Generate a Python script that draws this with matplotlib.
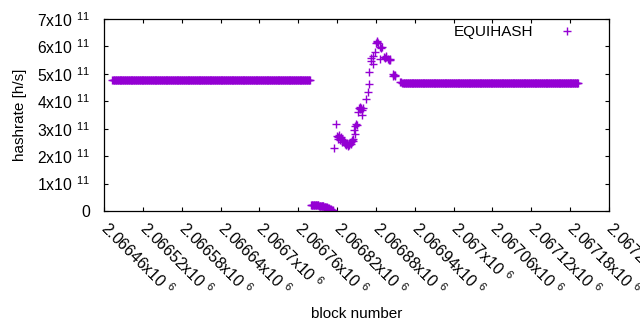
import numpy as np
import matplotlib
matplotlib.use('Agg')
import matplotlib.pyplot as plt

plt.rcParams['font.family'] = ['Liberation Sans', 'DejaVu Sans']
plt.rcParams['font.size'] = 11
plt.rcParams['mathtext.fontset'] = 'custom'
plt.rcParams['mathtext.rm'] = 'Liberation Sans'
plt.rcParams['mathtext.it'] = 'Liberation Sans:italic'

COLOR = '#9400d3'

# first plateau (one point per block, constant hashrate)
flat1_first, flat1_last, flat1_val = 2066473, 2066778, 4.765e11
# second plateau
flat2_first, flat2_last, flat2_val = 2066921, 2067192, 4.655e11

# the dip right after the first plateau (x1e11)
low_first = 2066780
low_vals = [0.23, 0.23, 0.23, 0.22, 0.22, 0.22, 0.22, 0.22, 0.21, 0.21, 0.21, 0.21,
            0.20, 0.20, 0.20, 0.19, 0.19, 0.18, 0.17, 0.17, 0.16, 0.15, 0.15, 0.14,
            0.13, 0.12, 0.11, 0.10, 0.09, 0.08, 0.06, 0.05, 0.04, 0.02, 0.0]

# recovery / overshoot region (x1e11)
trans_blocks = [2066815, 2066818,
                2066820, 2066821, 2066822, 2066823, 2066824, 2066825, 2066826,
                2066827, 2066828, 2066829, 2066830, 2066831,
                2066833, 2066834, 2066835, 2066836, 2066837, 2066838, 2066839,
                2066840, 2066841, 2066842, 2066843, 2066844, 2066845,
                2066846, 2066847, 2066848, 2066849, 2066850,
                2066852, 2066854, 2066855, 2066856, 2066857, 2066858, 2066859, 2066860,
                2066865, 2066867, 2066869, 2066870, 2066872, 2066873, 2066875, 2066876,
                2066878, 2066880, 2066881, 2066882, 2066883,
                2066886, 2066887, 2066888, 2066889,
                2066893, 2066894, 2066895, 2066896,
                2066899, 2066900, 2066901, 2066902,
                2066906, 2066907, 2066908, 2066909, 2066910,
                2066917, 2066918]
trans_vals = [2.31, 3.16,
              2.72, 2.62, 2.70, 2.78, 2.66, 2.58, 2.70,
              2.63, 2.52, 2.60, 2.55, 2.50,
              2.45, 2.40, 2.48, 2.43, 2.38, 2.46, 2.42,
              2.47, 2.44, 2.52, 2.58, 2.55, 2.64,
              2.95, 2.80, 3.10, 3.18, 3.12,
              3.62, 3.76, 3.72, 3.79, 3.74, 3.70, 3.50, 3.77,
              4.08, 4.35, 4.62, 5.06, 5.47, 5.59, 5.35, 5.66,
              5.81, 6.13, 6.18, 6.15, 6.11,
              5.54, 5.99, 5.95, 5.97,
              5.62, 5.58, 5.64, 5.60,
              5.55, 5.51, 5.54, 5.50,
              4.98, 4.94, 4.97, 4.93, 4.96,
              4.72, 4.70]

x_ticks = list(range(2066460, 2067241, 60))
y_ticks = [0, 1e11, 2e11, 3e11, 4e11, 5e11, 6e11, 7e11]

# build the full series
b1 = np.arange(flat1_first, flat1_last + 1)
bl = np.arange(low_first, low_first + len(low_vals))
b2 = np.arange(flat2_first, flat2_last + 1)
blocks = np.concatenate([b1, bl, np.array(trans_blocks), b2])
rate = np.concatenate([np.full(len(b1), flat1_val),
                       np.array(low_vals) * 1e11,
                       np.array(trans_vals) * 1e11,
                       np.full(len(b2), flat2_val)])

fig = plt.figure(figsize=(6.4, 3.3), dpi=100)
ax = fig.add_axes([104 / 640, (330 - 211) / 330, 505 / 640, 192 / 330])

ax.plot(blocks, rate, linestyle='none', marker='+', color=COLOR,
        markersize=5.5, markeredgewidth=1.0, label='EQUIHASH')

ax.set_xlim(x_ticks[0], x_ticks[-1])
ax.set_ylim(0, 7e11)

ax.set_xticks(x_ticks)
ax.set_xticklabels([r'$\mathrm{%sx10\,}^{\ 6}$' % ('%g' % (t / 1e6)) for t in x_ticks],
                   rotation=-45, ha='left', va='center', rotation_mode='anchor',
                   fontsize=11.3)
ax.set_yticks(y_ticks)
ax.set_yticklabels(['0'] + [r'$\mathrm{%dx10\,}^{\ 11}$' % int(t / 1e11) for t in y_ticks[1:]],
                   fontsize=11.3)

ax.tick_params(direction='in', top=True, right=True, length=3, width=0.8, colors='black')
ax.tick_params(axis='y', pad=10)
ax.tick_params(axis='x', pad=10)
for s in ax.spines.values():
    s.set_linewidth(0.9)

ax.set_ylabel('hashrate [h/s]')
ax.yaxis.set_label_coords(-0.152, 0.5)
ax.set_xlabel('block number')
ax.xaxis.set_label_coords(0.5, -0.5)

ax.legend(loc='center right', bbox_to_anchor=(0.947, 0.932), frameon=False,
          markerfirst=False, borderpad=0, borderaxespad=0,
          handlelength=2, handletextpad=1.2)

plt.savefig('out.png', dpi=100)
plt.close()
